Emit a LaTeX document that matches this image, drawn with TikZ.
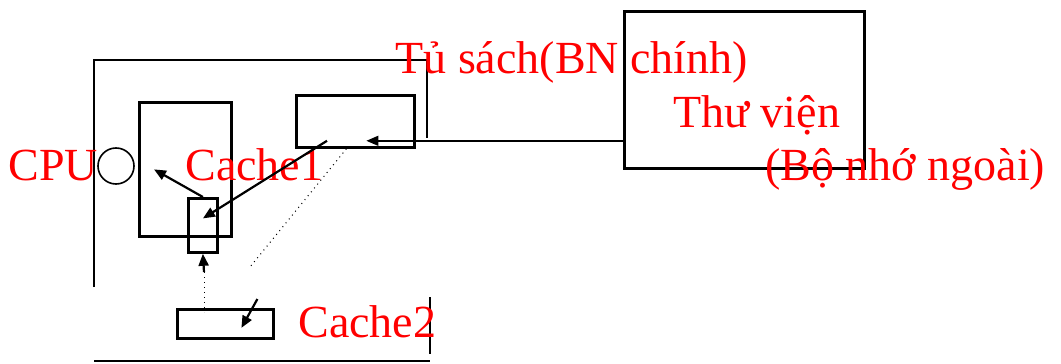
\documentclass[tikz,border=0pt]{standalone}
\usepackage{fontspec}
\setmainfont{Liberation Serif}
\usepackage{tikz}
\usetikzlibrary{positioning, arrows.meta}

\begin{document}
\begin{tikzpicture}[x=0.5pt, y=-0.5pt,
    box/.style={draw, line width=1.4pt, inner sep=0pt, anchor=north west},
    lbl/.style={text=red, font=\fontsize{23}{27}\selectfont, inner sep=0pt, anchor=base west},
    arr/.style={-{Triangle[length=6pt,width=5pt]}, line width=1.1pt}]
    \useasboundingbox (0,0) rectangle (1061,364);

    % khung may tinh
    \draw[line width=1.4pt] (94,287) -- (94,60) -- (427,60) -- (427,138);
    \draw[line width=1.1pt] (94,361) -- (430,361);
    \draw[line width=1.1pt] (430,297) -- (430,354);

    \node[draw, circle, line width=0.8pt, minimum size=18pt, inner sep=0pt] (cpu) at (116,166) {};
    \node[box, minimum width=46pt, minimum height=67pt] (main) at (138,101) {};
    \node[box, minimum width=14.5pt, minimum height=27pt] (cache1) at (187,197) {};
    \node[box, minimum width=59pt, minimum height=26pt] (tusach) at (295,94) {};
    \node[box, minimum width=48pt, minimum height=14.5pt] (cache2) at (176,308) {};
    \node[box, minimum width=120pt, minimum height=78.5pt] (thuvien) at (623,10) {};

    \node[lbl] (tCPU) at (8,180) {CPU};
    \node[lbl] (tCache1) at (185,180) {Cache1};
    \node[lbl] (tTusach) at (395,73) {Tủ sách(BN chính)};
    \node[lbl] (tThuvien) at (673,127) {Thư viện};
    \node[lbl] (tNgoai) at (765,180) {(Bộ nhớ ngoài)};
    \node[lbl] (tCache2) at (298,337) {Cache2};

    \coordinate (up) at (204,272);
    \coordinate (diag) at (250,267);

    \draw[arr] (cache1.north) -- ([xshift=8pt]main.west);
    \draw[arr] ([xshift=16pt,yshift=4pt]tusach.south west) -- ([yshift=3.5pt]cache1.center);
    \draw[arr] (up) -- (cache1.south);
    \draw[dotted, line width=0.5pt] (up) -- ([yshift=-2pt]up |- cache2.north);
    \draw[dotted, line width=0.5pt] ([xshift=-4.5pt]tusach.south) -- (diag);
    \draw[arr] ([xshift=16pt,yshift=4.5pt]cache2.north) -- ([xshift=8pt,yshift=-2pt]cache2.center);
    \draw[-{Triangle[length=6pt,width=5pt]}, line width=0.7pt]
        ([yshift=14.5pt]thuvien.south west) -- ([xshift=5.5pt,yshift=4pt]tusach.south);
\end{tikzpicture}
\end{document}
